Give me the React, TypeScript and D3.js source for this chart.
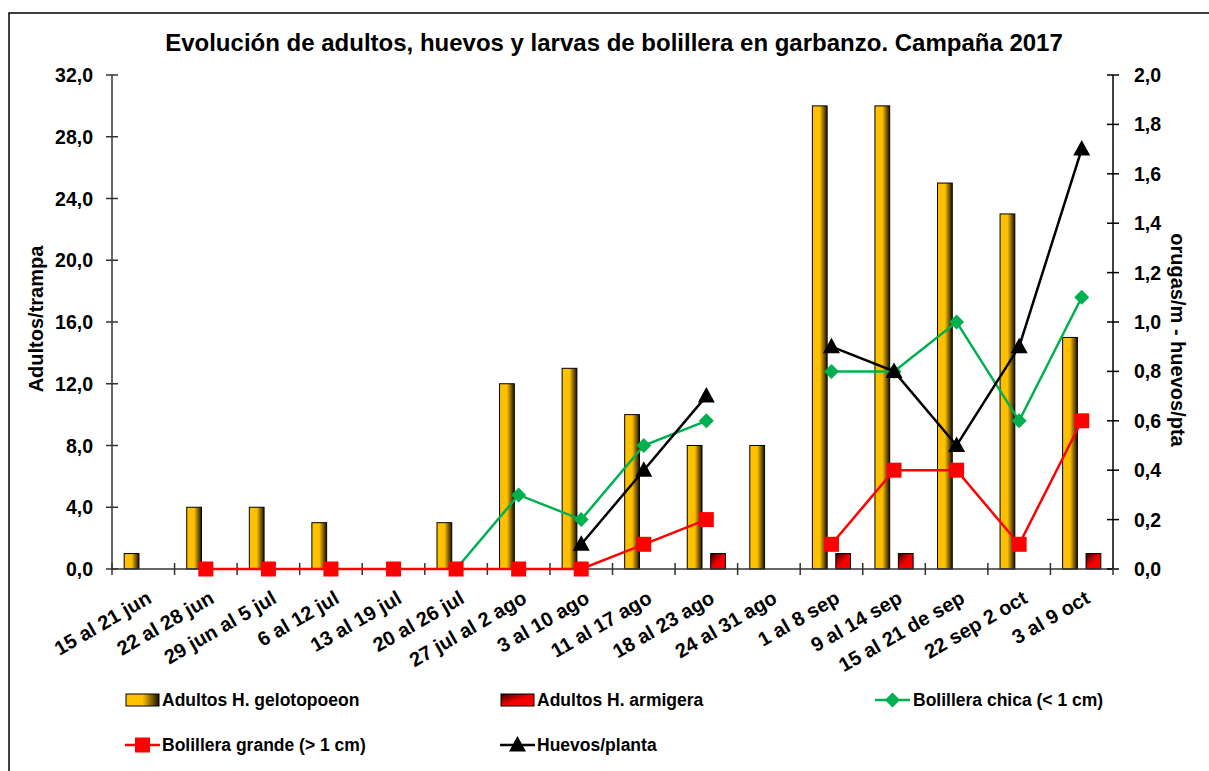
import React from 'react';
import * as d3 from 'd3';

// chart data
const categories = [
  '15 al 21 jun', '22 al 28 jun', '29 jun al 5 jul', '6 al 12 jul', '13 al 19 jul',
  '20 al 26 jul', '27 jul al 2 ago', '3 al 10 ago', '11 al 17 ago', '18 al 23 ago',
  '24 al 31 ago', '1 al 8 sep', '9 al 14 sep', '15 al 21 de sep', '22 sep 2 oct', '3 al 9 oct',
];
const gelotopoeon = [1, 4, 4, 3, 0, 3, 12, 13, 10, 8, 8, 30, 30, 25, 23, 15];
const armigera = [0, 0, 0, 0, 0, 0, 0, 0, 0, 1, 0, 1, 1, 0, 0, 1];
const chica = [null, null, null, null, null, 0, 0.3, 0.2, 0.5, 0.6, null, 0.8, 0.8, 1.0, 0.6, 1.1];
const grande = [null, 0, 0, 0, 0, 0, 0, 0, 0.1, 0.2, null, 0.1, 0.4, 0.4, 0.1, 0.6];
const huevos = [null, null, null, null, null, null, null, 0.1, 0.4, 0.7, null, 0.9, 0.8, 0.5, 0.9, 1.7];
const leftTicks = [0, 4, 8, 12, 16, 20, 24, 28, 32];
const rightTicks = [0, 0.2, 0.4, 0.6, 0.8, 1.0, 1.2, 1.4, 1.6, 1.8, 2.0];

const W = 1209;
const H = 771;
const plot = { left: 112, right: 1113, top: 75, bottom: 569 };
const font = 'Arial, "Liberation Sans", sans-serif';
const fmt = (v: number) => v.toFixed(1).replace('.', ',');

export default function App() {
  const x = d3.scaleBand<string>().domain(categories).range([plot.left, plot.right]).padding(0);
  const xInner = d3.scaleBand<string>().domain(['g', 'a']).range([0, x.bandwidth()])
    .paddingInner(0.37).paddingOuter(0.52);
  const yL = d3.scaleLinear().domain([0, 32]).range([plot.bottom, plot.top]);
  const yR = d3.scaleLinear().domain([0, 2]).range([plot.bottom, plot.top]);
  const cx = (i: number) => (x(categories[i]) as number) + x.bandwidth() / 2;

  const line = d3.line<number | null>()
    .defined((d) => d !== null)
    .x((_, i) => cx(i))
    .y((d) => yR(d as number));

  const series = [
    { name: 'chica', data: chica, color: '#00B050', marker: 'diamond' },
    { name: 'grande', data: grande, color: '#FF0000', marker: 'square' },
    { name: 'huevos', data: huevos, color: '#000000', marker: 'triangle' },
  ];

  const marker = (type: string, color: string, px: number, py: number, key: string) => {
    if (type === 'diamond') {
      const s = 7.5;
      return <path key={key} d={`M${px},${py - s}L${px + s},${py}L${px},${py + s}L${px - s},${py}Z`} fill={color} />;
    }
    if (type === 'square') {
      return <rect key={key} x={px - 7.5} y={py - 7.5} width={15} height={15} fill={color} />;
    }
    return <path key={key} d={`M${px},${py - 9}L${px + 8.5},${py + 6.5}L${px - 8.5},${py + 6.5}Z`} fill={color} />;
  };

  return (
    <svg width={W} height={H} style={{ position: 'absolute', left: 0, top: 0, background: '#fff' }}
      fontFamily={font}>
      <defs>
        <linearGradient id="gold" x1="0" y1="0" x2="1" y2="0">
          <stop offset="0" stopColor="#FFC000" />
          <stop offset="0.5" stopColor="#FFC000" />
          <stop offset="1" stopColor="#1a1200" />
        </linearGradient>
        <linearGradient id="red" x1="1" y1="1" x2="0" y2="0">
          <stop offset="0" stopColor="#FF0000" />
          <stop offset="0.5" stopColor="#F00000" />
          <stop offset="1" stopColor="#300000" />
        </linearGradient>
      </defs>
      <rect x={9} y={13} width={W} height={H} fill="none" stroke="#000" strokeWidth={1.5} />

      <text x={614} y={51} textAnchor="middle" fontSize={24} fontWeight="bold">
        Evolución de adultos, huevos y larvas de bolillera en garbanzo. Campaña 2017
      </text>

      {/* bars */}
      {gelotopoeon.map((v, i) => v > 0 && (
        <rect key={'g' + i} x={(x(categories[i]) as number) + (xInner('g') as number)} y={yL(v)}
          width={xInner.bandwidth()} height={yL(0) - yL(v)} fill="url(#gold)" stroke="#000" strokeWidth={1} />
      ))}
      {armigera.map((v, i) => v > 0 && (
        <rect key={'a' + i} x={(x(categories[i]) as number) + (xInner('a') as number)} y={yL(v)}
          width={xInner.bandwidth()} height={yL(0) - yL(v)} fill="url(#red)" stroke="#000" strokeWidth={1} />
      ))}

      {/* axes */}
      <g stroke="#333" strokeWidth={1.5}>
        <line x1={plot.left} x2={plot.left} y1={plot.top} y2={plot.bottom} />
        <line x1={plot.right} x2={plot.right} y1={plot.top} y2={plot.bottom} stroke="#000" />
        <line x1={plot.left} x2={plot.right} y1={plot.bottom} y2={plot.bottom} />
        {leftTicks.map((t) => (
          <line key={'lt' + t} x1={plot.left - 6} x2={plot.left + 6} y1={yL(t)} y2={yL(t)} />
        ))}
        {rightTicks.map((t) => (
          <line key={'rt' + t} x1={plot.right - 6} x2={plot.right + 6} y1={yR(t)} y2={yR(t)} stroke="#000" />
        ))}
        {categories.map((c, i) => (
          <line key={'xt' + i} x1={x(c) as number} x2={x(c) as number} y1={plot.bottom - 6} y2={plot.bottom + 6} />
        ))}
        <line x1={plot.right} x2={plot.right} y1={plot.bottom - 6} y2={plot.bottom + 6} />
      </g>
      <g fontSize={19.5} fontWeight="bold">
        {leftTicks.map((t) => (
          <text key={'ll' + t} x={93} y={yL(t)} dy="0.36em" textAnchor="end">{fmt(t)}</text>
        ))}
        {rightTicks.map((t) => (
          <text key={'rl' + t} x={1134} y={yR(t)} dy="0.36em">{fmt(t)}</text>
        ))}
      </g>
      <g fontSize={20} fontWeight="bold">
        {categories.map((c, i) => (
          <text key={'xl' + i} transform={`translate(${cx(i) + 2},${plot.bottom + 20}) rotate(-30)`}
            textAnchor="end" dy="0.75em">{c}</text>
        ))}
      </g>
      <text transform={`translate(43,${(245 + 393) / 2}) rotate(-90)`} textAnchor="middle"
        fontSize={20} fontWeight="bold">Adultos/trampa</text>
      <text transform={`translate(1171,340) rotate(90)`} textAnchor="middle"
        fontSize={20} fontWeight="bold">orugas/m - huevos/pta</text>

      {/* lines */}
      {series.map((s) => (
        <g key={s.name}>
          <path d={line(s.data) || ''} fill="none" stroke={s.color} strokeWidth={2.5} />
          {s.data.map((v, i) => v !== null && marker(s.marker, s.color, cx(i), yR(v), s.name + i))}
        </g>
      ))}

      {/* legend */}
      <g fontSize={17.5} fontWeight="bold">
        <rect x={126} y={694} width={33} height={12} fill="url(#gold)" stroke="#000" />
        <text x={162} y={700} dy="0.36em">Adultos H. gelotopoeon</text>
        <rect x={501} y={694} width={33} height={12} fill="url(#red)" stroke="#000" />
        <text x={537} y={700} dy="0.36em">Adultos H. armigera</text>
        <line x1={875} x2={910} y1={700} y2={700} stroke="#00B050" strokeWidth={2.5} />
        {marker('diamond', '#00B050', 892.5, 700, 'lg1')}
        <text x={913} y={700} dy="0.36em">Bolillera chica (&lt; 1 cm)</text>
        <line x1={125} x2={160} y1={745} y2={745} stroke="#FF0000" strokeWidth={2.5} />
        {marker('square', '#FF0000', 142.5, 745, 'lg2')}
        <text x={162} y={745} dy="0.36em">Bolillera grande (&gt; 1 cm)</text>
        <line x1={500} x2={535} y1={745} y2={745} stroke="#000" strokeWidth={2.5} />
        {marker('triangle', '#000', 517.5, 745, 'lg3')}
        <text x={537} y={745} dy="0.36em">Huevos/planta</text>
      </g>
    </svg>
  );
}
